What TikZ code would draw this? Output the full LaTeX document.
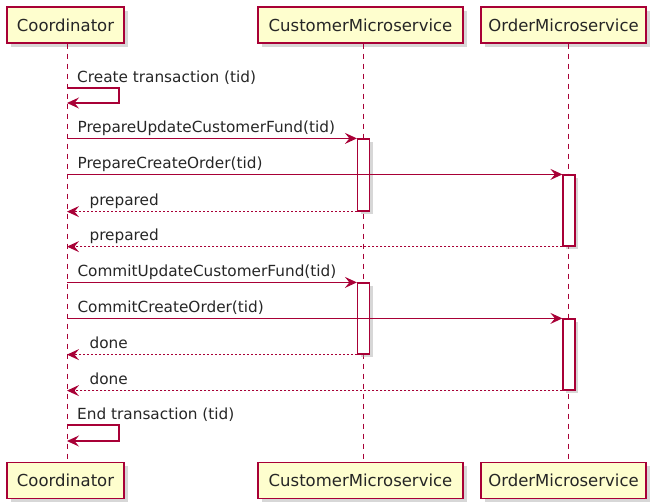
\documentclass[tikz,border=0pt]{standalone}
\usepackage{fontspec}
\setmainfont{DejaVu Sans}
\usepackage{tikz}
\usetikzlibrary{arrows.meta,shadows}
\definecolor{umlred}{HTML}{A80036}
\definecolor{umlyellow}{HTML}{FEFECE}

\begin{document}
\begin{tikzpicture}[x=1pt, y=-1pt,
	part/.style={draw=umlred, fill=umlyellow, line width=1.4pt, inner sep=0pt, minimum height=36pt, font=\fontsize{16.5}{20}\selectfont, text=black!85, drop shadow={shadow xshift=3.5pt, shadow yshift=-3.5pt, fill=black!35, opacity=0.45}},
	act/.style={draw=umlred, fill=white, line width=1.2pt, inner sep=0pt, minimum width=12pt, drop shadow={shadow xshift=3pt, shadow yshift=-3pt, fill=black!35, opacity=0.45}},
	life/.style={umlred, line width=0.9pt, dash pattern=on 5pt off 5pt},
	msg/.style={umlred, line width=1.1pt, -{Stealth[length=12pt, width=11pt, inset=4.5pt]}},
	ret/.style={msg, dash pattern=on 2pt off 2pt},
	lbl/.style={font=\fontsize{15.3}{18}\selectfont, text=black!85, inner sep=0pt, anchor=base west}]
	\useasboundingbox (0,0) rectangle (652,501);
	\node [part, minimum width=117pt] (co) at (65.5,25) {Coordinator};
	\node [part, minimum width=205pt] (cm) at (360.5,25) {CustomerMicroservice};
	\node [part, minimum width=165pt] (om) at (563.5,25) {OrderMicroservice};
	\node [part, minimum width=117pt] (co2) at (65.5,480.5) {Coordinator};
	\node [part, minimum width=205pt] (cm2) at (360.5,480.5) {CustomerMicroservice};
	\node [part, minimum width=165pt] (om2) at (563.5,480.5) {OrderMicroservice};
	\coordinate (coL) at ([xshift=1.5pt]co.south);
	\coordinate (cmL) at ([xshift=2.5pt]cm.south);
	\coordinate (omL) at ([xshift=4.5pt]om.south);
	\draw [life] (coL) -- (coL |- co2.north);
	\draw [life] (cmL) -- (cmL |- cm2.north);
	\draw [life] (omL) -- (omL |- om2.north);
	\node [act, minimum height=72pt] (a1) at (363.5,175) {};
	\node [act, minimum height=71pt] (a2) at (569,210.5) {};
	\node [act, minimum height=71pt] (a3) at (363.5,318.5) {};
	\node [act, minimum height=71pt] (a4) at (569,354.5) {};
	\coordinate (s1) at (coL |- 0,88);
	\coordinate (s2) at (coL |- 0,425);
	\draw [msg] (s1) -- ++(52,0) -- ++(0,15) -- ([yshift=-15pt]s1);
	\node [lbl] at ([xshift=10pt, yshift=6pt]s1) {Create transaction (tid)};
	\draw [msg] (a1.north west -| coL) -- (a1.north west) node [lbl, at start, xshift=10pt, yshift=6pt] {PrepareUpdateCustomerFund(tid)};
	\draw [msg] (a2.north west -| coL) -- (a2.north west) node [lbl, at start, xshift=10pt, yshift=6pt] {PrepareCreateOrder(tid)};
	\draw [ret] (a1.south west) -- (a1.south west -| coL) node [lbl, at end, xshift=22pt, yshift=6pt] {prepared};
	\draw [ret] (a2.south west) -- (a2.south west -| coL) node [lbl, at end, xshift=22pt, yshift=6pt] {prepared};
	\draw [msg] (a3.north west -| coL) -- (a3.north west) node [lbl, at start, xshift=10pt, yshift=6pt] {CommitUpdateCustomerFund(tid)};
	\draw [msg] (a4.north west -| coL) -- (a4.north west) node [lbl, at start, xshift=10pt, yshift=6pt] {CommitCreateOrder(tid)};
	\draw [ret] (a3.south west) -- (a3.south west -| coL) node [lbl, at end, xshift=22pt, yshift=6pt] {done};
	\draw [ret] (a4.south west) -- (a4.south west -| coL) node [lbl, at end, xshift=22pt, yshift=6pt] {done};
	\draw [msg] (s2) -- ++(52,0) -- ++(0,16) -- ([yshift=-16pt]s2);
	\node [lbl] at ([xshift=10pt, yshift=6pt]s2) {End transaction (tid)};
\end{tikzpicture}
\end{document}
